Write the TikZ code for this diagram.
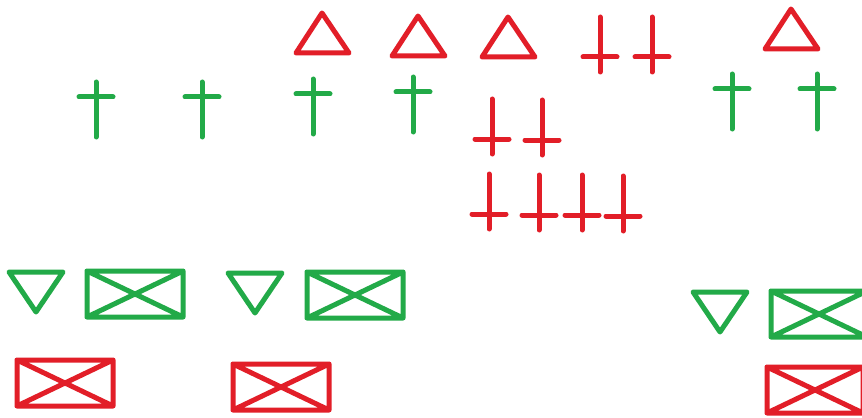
\documentclass[tikz,border=0pt]{standalone}
\usepackage{tikz}
\usetikzlibrary{positioning}
\definecolor{paintred}{RGB}{226,30,40}
\definecolor{paintgreen}{RGB}{34,170,72}
\tikzset{
  brush/.style={line width=1.5mm, line cap=round, line join=round},
  upcross/.pic={\draw[brush] (0,0) -- (0,55) (-17,15) -- (17,15);},
  downcross/.pic={\draw[brush] (0,0) -- (0,55) (-17,40) -- (17,40);},
  uptri/.pic={\draw[brush] (0,0) -- (-26,40) -- (27,40) -- cycle;},
  downtri/.pic={\draw[brush] (0,0) -- (-27,-40) -- (27,-40) -- cycle;},
  xbox/.pic={\draw[brush] (0,0) rectangle (96,46) (0,0) -- (96,46) (0,46) -- (96,0);}
}
\begin{document}
\begin{tikzpicture}[x=0.3mm, y=-0.3mm]
\clip (0,0) rectangle (862,417);
\fill[white] (0,0) rectangle (862,417);

% red triangles
\begin{scope}[color=paintred]
\pic at (322,13) {uptri};
\pic at (418,16) {uptri};
\pic at (508,17) {uptri};
\pic at (791,9) {uptri};
\end{scope}

% red crosses
\begin{scope}[color=paintred]
\pic at (600,17) {downcross};
\pic at (652,17) {downcross};
\pic at (492,99) {downcross};
\pic at (542,100) {downcross};
\pic at (489,174) {downcross};
\pic at (539,175) {downcross};
\pic at (582,175) {downcross};
\pic at (623,176) {downcross};
\end{scope}

% green crosses
\begin{scope}[color=paintgreen]
\pic at (96,82) {upcross};
\pic at (202,82) {upcross};
\pic at (313,79) {upcross};
\pic at (413,77) {upcross};
\pic at (732,74) {upcross};
\pic at (817,74) {upcross};
\end{scope}

% green triangles and boxes
\begin{scope}[color=paintgreen]
\pic at (36,312) {downtri};
\pic at (255,313) {downtri};
\pic at (720,332) {downtri};
\pic at (87,271) {xbox};
\pic at (307,272) {xbox};
\pic at (771,291) {xbox};
\end{scope}

% red boxes
\begin{scope}[color=paintred]
\pic at (17,360) {xbox};
\pic at (233,364) {xbox};
\pic at (767,367) {xbox};
\end{scope}
\end{tikzpicture}
\end{document}
